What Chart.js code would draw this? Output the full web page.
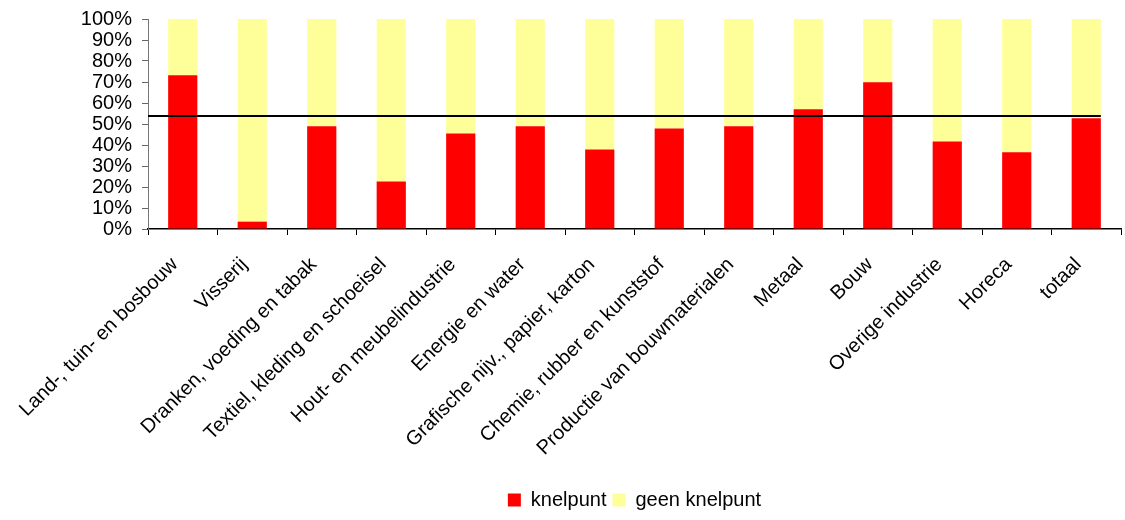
<!DOCTYPE html>
<html>
<head>
<meta charset="utf-8">
<script src="https://cdn.jsdelivr.net/npm/chart.js@4/dist/chart.umd.min.js"></script>
<style>
  html, body { margin: 0; padding: 0; background: #fff; }
  #wrap { width: 1125px; height: 520px; }
</style>
</head>
<body>
<div id="wrap"><canvas id="cv"></canvas></div>
<script>
// categories (sectors)
var sectoren = [
    "Land-, tuin- en bosbouw", "Visserij", "Dranken, voeding en tabak",
    "Textiel, kleding en schoeisel", "Hout- en meubelindustrie", "Energie en water",
    "Grafische nijv., papier, karton", "Chemie, rubber en kunststof",
    "Productie van bouwmaterialen", "Metaal", "Bouw", "Overige industrie",
    "Horeca", "totaal"
];
// share of companies with / without a bottleneck (%)
var knelpunt     = [73.2, 3.5, 48.9, 22.6, 45.5, 48.9, 37.9, 47.9, 48.9, 57.0, 69.9, 41.7, 36.5, 52.7];
var geenKnelpunt = [26.8, 96.5, 51.1, 77.4, 54.5, 51.1, 62.1, 52.1, 51.1, 43.0, 30.1, 58.3, 63.5, 47.3];
// horizontal reference line
var gemiddeld = 53.8;
var yTicks = [0, 10, 20, 30, 40, 50, 60, 70, 80, 90, 100];

var font = { family: "'Liberation Sans', Arial, sans-serif", size: 20 };

// draws the black reference line across the bars
var refLine = {
    id: "refLine",
    afterDatasetsDraw: function (chart) {
        var ctx = chart.ctx;
        var y = chart.scales.y.getPixelForValue(gemiddeld);
        var bars = chart.getDatasetMeta(0).data;
        var last = bars[bars.length - 1];
        var x2 = last.x + last.width / 2;
        ctx.save();
        ctx.strokeStyle = "#000";
        ctx.lineWidth = 2;
        ctx.beginPath();
        ctx.moveTo(chart.chartArea.left, y);
        ctx.lineTo(x2, y);
        ctx.stroke();
        ctx.restore();
    }
};

new Chart(document.getElementById("cv").getContext("2d"), {
    type: "bar",
    data: {
        labels: sectoren,
        datasets: [
            { label: "knelpunt", data: knelpunt, backgroundColor: "#ff0000" },
            { label: "geen knelpunt", data: geenKnelpunt, backgroundColor: "#ffff99" }
        ]
    },
    options: {
        responsive: true,
        maintainAspectRatio: false,
        animation: false,
        barPercentage: 0.42,
        categoryPercentage: 1,
        layout: { padding: { top: 19, right: 4, left: 28, bottom: 0 } },
        plugins: {
            legend: {
                position: "bottom",
                fullSize: false,
                labels: {
                    color: "#000",
                    font: font,
                    boxWidth: 13,
                    boxHeight: 13,
                    padding: 6
                }
            },
            tooltip: { enabled: false }
        },
        scales: {
            x: {
                stacked: true,
                grid: { display: true, drawOnChartArea: false, tickLength: 6, color: "#000" },
                border: { color: "#000", width: 1.5 },
                ticks: {
                    color: "#000",
                    font: font,
                    autoSkip: false,
                    maxRotation: 45,
                    minRotation: 45,
                    padding: 18,
                    labelOffset: -8
                },
                afterFit: function (s) {
                    s.height = 255;
                    s.paddingLeft = 148;
                }
            },
            y: {
                stacked: true,
                min: 0,
                max: 100,
                afterBuildTicks: function (s) {
                    s.ticks = yTicks.map(function (v) { return { value: v }; });
                },
                afterFit: function (s) {
                    s.paddingTop = 0;
                    s.paddingBottom = 0;
                },
                grid: { display: true, drawOnChartArea: false, tickLength: 6, color: "#666" },
                border: { color: "#777", width: 1 },
                ticks: {
                    color: "#000",
                    font: font,
                    padding: 10,
                    autoSkip: false,
                    callback: function (v) { return v + "%"; }
                }
            }
        }
    },
    plugins: [refLine]
});
</script>
</body>
</html>
